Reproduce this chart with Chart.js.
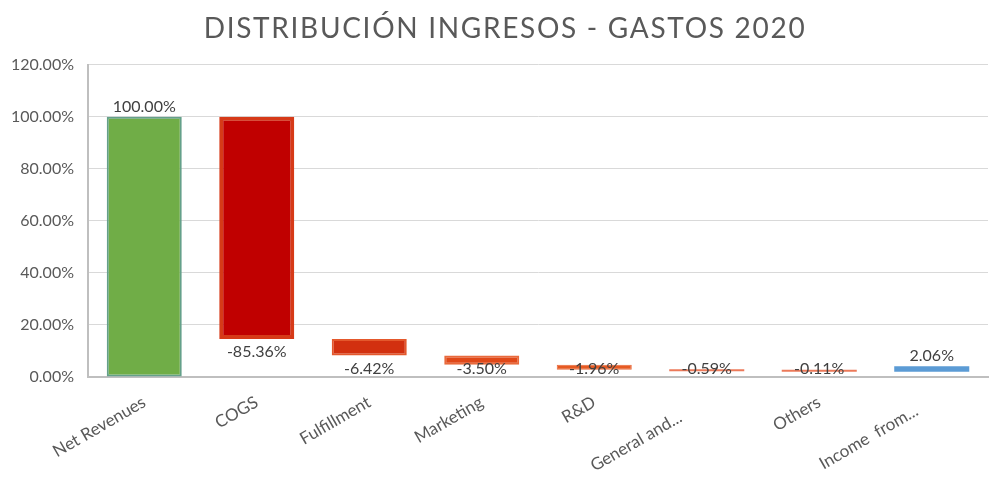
<!DOCTYPE html>
<html>
<head>
<meta charset="utf-8">
<script src="https://cdn.jsdelivr.net/npm/chart.js@4.4.1/dist/chart.umd.min.js"></script>
<style>
  html, body { margin: 0; padding: 0; background: #ffffff; }
  #wrap { width: 1008px; height: 502px; }
</style>
</head>
<body>
<div id="wrap"><canvas id="c" width="1008" height="502"></canvas></div>
<script>
// ---- data ----
const categories = ["Net Revenues", "COGS", "Fulfillment", "Marketing", "R&D", "General and...       ", "Others", "Income  from...    "];
const changes    = [100.00, -85.36, -6.42, -3.50, -1.96, -0.59, -0.11, 2.06];
const barStart   = [0, 14.64, 8.22, 4.72, 2.76, 2.17, 2.06, 2.06];
const barEnd     = [100, 100, 14.64, 8.22, 4.72, 2.76, 2.17, 4.12];
const yTicks     = [0, 20, 40, 60, 80, 100, 120];
const titleText  = "DISTRIBUCIÓN INGRESOS - GASTOS 2020";

const fillColors   = ["#70AD47", "#C00000", "#D2300F", "#E04818", "#E65A22", "#EC7A5A", "#EC7A5A", "#5B9BD5"];
const borderColors = ["#64A08A", "#D63A18", "#E4582C", "#E96A3C", "#E96A3C", "#EC7A5A", "#EC7A5A", "#5B9BD5"];
const borderWidths = [2, 4, 2, 2, 1, 0, 0, 0];

const FONT = "Lato, 'Open Sans', sans-serif";

const labelPlugin = {
  id: 'valueLabels',
  afterDatasetsDraw(chart) {
    const ctx = chart.ctx;
    const meta = chart.getDatasetMeta(0);
    const area = chart.chartArea;
    ctx.save();
    ctx.font = "16px " + FONT;
    ctx.fillStyle = "#404040";
    ctx.textAlign = "center";
    ctx.textBaseline = "middle";
    meta.data.forEach((el, i) => {
      const top = Math.min(el.y, el.base);
      const bottom = Math.max(el.y, el.base);
      const txt = changes[i].toFixed(2) + "%";
      let y;
      if (changes[i] >= 0) {
        y = top - 10;
      } else {
        y = Math.min(bottom + 13, area.bottom - 8);
      }
      ctx.fillText(txt, el.x, y);
    });
    ctx.restore();
  }
};

const titleSpacing = {
  id: 'titleSpacing',
  beforeDraw(chart) {
    const tb = chart.titleBlock;
    if (tb && !tb._spaced) {
      const orig = tb.draw;
      tb.draw = function () {
        const ctx = this.ctx;
        ctx.save();
        ctx.letterSpacing = "1.7px";
        ctx.translate(11, 0);
        orig.apply(this, arguments);
        ctx.restore();
      };
      tb._spaced = true;
    }
  }
};

new Chart(document.getElementById('c'), {
  type: 'bar',
  data: {
    labels: categories,
    datasets: [{
      data: barStart.map((s, i) => [s, barEnd[i]]),
      backgroundColor: fillColors,
      borderColor: borderColors,
      borderWidth: borderWidths,
      borderSkipped: false,
      minBarLength: 2,
      barPercentage: 0.667,
      categoryPercentage: 1.0
    }]
  },
  options: {
    responsive: false,
    animation: false,
    devicePixelRatio: 1,
    layout: { padding: { left: 0, right: 20, top: 0, bottom: 0 } },
    plugins: {
      legend: { display: false },
      tooltip: { enabled: false },
      title: {
        display: true,
        text: titleText,
        color: "#595959",
        font: { family: FONT, size: 28, weight: 'normal' },
        padding: { top: 12, bottom: 19 }
      }
    },
    scales: {
      x: {
        grid: { display: false },
        border: { color: "#BFBFBF", width: 2 },
        ticks: {
          color: "#595959",
          font: { family: FONT, size: 17 },
          maxRotation: 30,
          minRotation: 30,
          autoSkip: false,
          padding: 7
        },
        afterFit(scale) { scale.height = 125; }
      },
      y: {
        min: 0,
        max: 120,
        afterBuildTicks(scale) { scale.ticks = yTicks.map(v => ({ value: v })); },
        grid: { color: "#D9D9D9", lineWidth: 1, drawTicks: false },
        border: { color: "#BFBFBF", width: 2 },
        ticks: {
          color: "#595959",
          font: { family: FONT, size: 16 },
          padding: 14,
          callback: v => Number(v).toFixed(2) + "%"
        },
        afterFit(scale) { scale.width = 88; }
      }
    }
  },
  plugins: [labelPlugin, titleSpacing]
});
</script>
</body>
</html>
